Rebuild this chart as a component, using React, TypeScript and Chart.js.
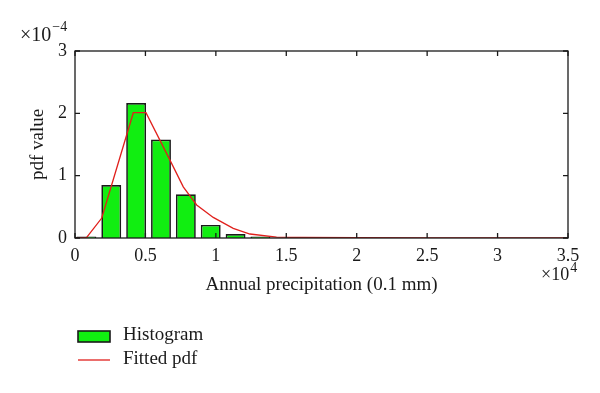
import React, { useEffect, useRef } from "react";
import { Chart, registerables } from "chart.js";

Chart.register(...registerables);

// Histogram bins (bin centres, 0.1 mm) and density values (x 1e-4)
const binCenters = [810, 2575, 4340, 6105, 7870, 9635, 11400, 13165];
const histValues = [0.025, 0.85, 2.165, 1.58, 0.7, 0.21, 0.064, 0.025];

// Fitted pdf sample points (0.1 mm) and values (x 1e-4)
const pdfX = [0, 830, 1900, 4140, 5040, 6742, 7686, 8637, 9815, 11234, 12420, 14310, 16000, 20000, 25000, 30000, 35000];
const pdfY = [0.0, 0.01, 0.32, 2.01, 2.01, 1.25, 0.82, 0.53, 0.33, 0.155, 0.064, 0.015, 0.008, 0.004, 0.002, 0.001, 0.0005];

const xTicks = [0, 5000, 10000, 15000, 20000, 25000, 30000, 35000];
const yTicks = [0, 1, 2, 3];

const xTitle = "Annual precipitation (0.1 mm)";
const yTitle = "pdf value";
const histLabel = "Histogram";
const pdfLabel = "Fitted pdf";

const SERIF = "'Liberation Serif', 'DejaVu Serif', serif";
const GREEN = "#11ee11";
const RED = "#e0201c";
const INK = "#1a1a1a";

const framePlugin = {
  id: "frame",
  afterDraw(chart: any) {
    const { ctx, chartArea: a, scales } = chart;
    const xs = scales.x;
    const ys = scales.y;
    ctx.save();
    ctx.strokeStyle = INK;
    ctx.lineWidth = 1.3;
    ctx.strokeRect(a.left, a.top, a.right - a.left, a.bottom - a.top);
    const tl = 5;
    ctx.beginPath();
    xTicks.forEach((v) => {
      const px = xs.getPixelForValue(v);
      ctx.moveTo(px, a.bottom);
      ctx.lineTo(px, a.bottom - tl);
      ctx.moveTo(px, a.top);
      ctx.lineTo(px, a.top + tl);
    });
    yTicks.forEach((v) => {
      const py = ys.getPixelForValue(v);
      ctx.moveTo(a.left, py);
      ctx.lineTo(a.left + tl, py);
      ctx.moveTo(a.right, py);
      ctx.lineTo(a.right - tl, py);
    });
    ctx.stroke();

    // exponent labels
    ctx.fillStyle = INK;
    ctx.textBaseline = "alphabetic";
    ctx.textAlign = "left";
    ctx.font = `20px ${SERIF}`;
    const yBase = "\u00d710";
    ctx.fillText(yBase, 20, 41);
    const w1 = ctx.measureText(yBase).width;
    ctx.font = `14px ${SERIF}`;
    ctx.fillText("\u22124", 20 + w1 + 1, 31);

    ctx.font = `18px ${SERIF}`;
    const xBase = "\u00d710";
    ctx.fillText(xBase, 541, 280);
    const w2 = ctx.measureText(xBase).width;
    ctx.font = `14px ${SERIF}`;
    ctx.fillText("4", 541 + w2 + 1, 272);

    // legend
    const ds = chart.data.datasets;
    const bar = ds[0];
    const line = ds[1];
    ctx.fillStyle = bar.backgroundColor;
    ctx.fillRect(78, 331, 32, 11);
    ctx.strokeStyle = bar.borderColor;
    ctx.lineWidth = 1.6;
    ctx.strokeRect(78, 331, 32, 11);
    ctx.strokeStyle = line.borderColor;
    ctx.lineWidth = 1.3;
    ctx.beginPath();
    ctx.moveTo(78, 360);
    ctx.lineTo(110, 360);
    ctx.stroke();
    ctx.fillStyle = INK;
    ctx.font = `19px ${SERIF}`;
    ctx.textBaseline = "middle";
    ctx.fillText(bar.label, 123, 335);
    ctx.fillText(line.label, 123, 359);
    ctx.restore();
  },
};

export default function App() {
  const ref = useRef<HTMLCanvasElement>(null);
  useEffect(() => {
    if (!ref.current) return;
    const chart = new Chart(ref.current, {
      data: {
        datasets: [
          {
            type: "bar",
            label: histLabel,
            data: binCenters.map((x, i) => ({ x, y: histValues[i] })),
            backgroundColor: GREEN,
            borderColor: INK,
            borderWidth: 1.7,
            barPercentage: 0.8,
            categoryPercentage: 1,
            order: 2,
          } as any,
          {
            type: "line",
            label: pdfLabel,
            data: pdfX.map((x, i) => ({ x, y: pdfY[i] })),
            borderColor: RED,
            borderWidth: 1.3,
            pointRadius: 0,
            tension: 0,
            fill: false,
            order: 1,
          } as any,
        ],
      },
      options: {
        animation: false,
        responsive: false,
        maintainAspectRatio: false,
        layout: { padding: { left: 0, top: 51, right: 32, bottom: 97 } },
        plugins: { legend: { display: false }, tooltip: { enabled: false } },
        scales: {
          x: {
            type: "linear",
            min: 0,
            max: 35000,
            offset: false,
            grid: { display: false, drawTicks: false, offset: false },
            border: { display: false },
            afterFit: (s: any) => {
              s.height = 58;
            },
            afterBuildTicks: (s: any) => {
              s.ticks = xTicks.map((v) => ({ value: v }));
            },
            ticks: {
              padding: 7,
              color: INK,
              font: { family: SERIF, size: 18 },
              maxRotation: 0,
              autoSkip: false,
              callback: (v: any) => String(Number(v) / 10000),
            },
            title: {
              display: true,
              text: xTitle,
              color: INK,
              font: { family: SERIF, size: 19 },
              padding: { top: 0, bottom: 0 },
            },
          },
          y: {
            type: "linear",
            min: 0,
            max: 3,
            grid: { display: false, drawTicks: false },
            border: { display: false },
            afterFit: (s: any) => {
              s.width = 75;
            },
            afterBuildTicks: (s: any) => {
              s.ticks = yTicks.map((v) => ({ value: v }));
            },
            ticks: {
              padding: 8,
              color: INK,
              font: { family: SERIF, size: 18 },
              callback: (v: any) => String(v),
            },
            title: {
              display: true,
              text: yTitle,
              color: INK,
              font: { family: SERIF, size: 19 },
              padding: { top: 27, bottom: 0 },
            },
          },
        },
      },
      plugins: [framePlugin],
    } as any);
    return () => chart.destroy();
  }, []);
  return (
    <div style={{ position: "fixed", left: 0, top: 0, width: 600, height: 393, background: "#fff" }}>
      <canvas ref={ref} width={600} height={393} style={{ width: 600, height: 393 }} />
    </div>
  );
}
